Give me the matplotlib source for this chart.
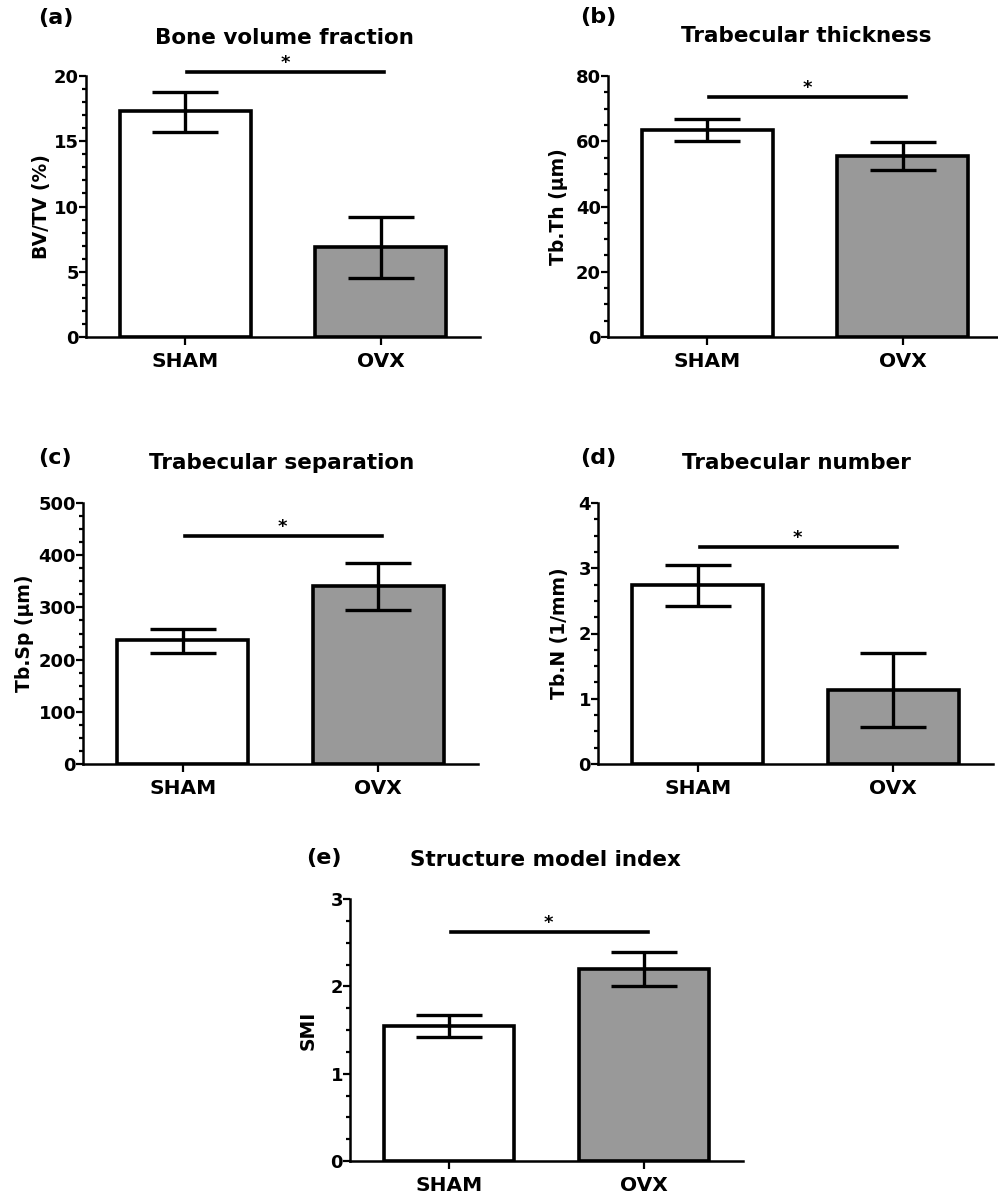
import matplotlib
matplotlib.use("Agg")
import matplotlib.pyplot as plt
from matplotlib.ticker import MultipleLocator

plt.rcParams['font.family'] = ['DejaVu Sans']
plt.rcParams['font.weight'] = 'bold'

groups = ['SHAM', 'OVX']
bar_colors = ['white', '#999999']

# mean values and error bar ends (low, high)
bvtv_mean = [17.3, 6.9]
bvtv_low = [15.7, 4.5]
bvtv_high = [18.8, 9.2]

tbth_mean = [63.5, 55.5]
tbth_low = [60.0, 51.3]
tbth_high = [66.8, 59.8]

tbsp_mean = [237, 341]
tbsp_low = [213, 295]
tbsp_high = [259, 386]

tbn_mean = [2.75, 1.13]
tbn_low = [2.42, 0.56]
tbn_high = [3.05, 1.70]

smi_mean = [1.55, 2.20]
smi_low = [1.42, 2.00]
smi_high = [1.67, 2.39]

sig_levels = [20.3, 73.5, 437, 3.32, 2.62]

W, H = 998, 1194
fig = plt.figure(figsize=(W / 100, H / 100), dpi=100)


def px_axes(left, top, right, bottom):
    return fig.add_axes([left / W, 1 - bottom / H, (right - left) / W, (bottom - top) / H])


def draw_panel(ax, mean, low, high, ymax, major, minor, ylabel, title, label,
               sig, title_xy, label_xy, ylabel_x):
    x = [0, 1]
    ax.bar(x, mean, width=0.67, color=bar_colors, edgecolor='black',
           linewidth=2.6, zorder=2)
    for xi, m, lo, hi in zip(x, mean, low, high):
        ax.errorbar(xi, m, yerr=[[m - lo], [hi - m]], color='black',
                    elinewidth=2.4, capsize=23.5, capthick=2.4, zorder=3)
    # significance bar
    ax.plot([0.01, 1.02], [sig, sig], color='black', lw=2.6, clip_on=False)
    ax.text(0.51, sig, '*', ha='center', va='bottom', fontsize=13,
            fontweight='bold')
    ax.set_xlim(-0.51, 1.51)
    ax.set_ylim(0, ymax)
    ax.yaxis.set_major_locator(MultipleLocator(major))
    ax.yaxis.set_minor_locator(MultipleLocator(minor))
    ax.set_xticks(x)
    ax.set_xticklabels(groups, fontsize=14.5, fontweight='bold')
    ax.tick_params(axis='y', which='major', length=5, width=1.6, labelsize=13, pad=0)
    ax.tick_params(axis='y', which='minor', length=3, width=1.6)
    ax.tick_params(axis='x', which='major', length=6, width=1.6, pad=5)
    for lbl in ax.get_yticklabels():
        lbl.set_fontweight('bold')
    for s in ['top', 'right']:
        ax.spines[s].set_visible(False)
    for s in ['left', 'bottom']:
        ax.spines[s].set_linewidth(1.8)
    pos = ax.get_position()
    fig.text(ylabel_x / W, (pos.y0 + pos.y1) / 2, ylabel, rotation=90,
             ha='center', va='center', fontsize=13.5, fontweight='bold')
    fig.text(title_xy[0] / W, 1 - title_xy[1] / H, title, ha='center',
             va='center', fontsize=15.5, fontweight='bold')
    fig.text(label_xy[0] / W, 1 - label_xy[1] / H, label, ha='left',
             va='center', fontsize=16, fontweight='bold')


ax_a = px_axes(86, 76, 480, 337)
draw_panel(ax_a, bvtv_mean, bvtv_low, bvtv_high, 20, 5, 1, 'BV/TV (%)',
           'Bone volume fraction', '(a)', sig_levels[0], (284, 38), (38, 18), 41)

ax_b = px_axes(608, 76, 1002, 337)
draw_panel(ax_b, tbth_mean, tbth_low, tbth_high, 80, 20, 5, 'Tb.Th (\u03bcm)',
           'Trabecular thickness', '(b)', sig_levels[1], (806, 36), (580, 17), 558)

ax_c = px_axes(83, 503, 478, 764)
draw_panel(ax_c, tbsp_mean, tbsp_low, tbsp_high, 500, 100, 25, 'Tb.Sp (\u03bcm)',
           'Trabecular separation', '(c)', sig_levels[2], (282, 463), (38, 458), 25)

ax_d = px_axes(598, 503, 993, 764)
draw_panel(ax_d, tbn_mean, tbn_low, tbn_high, 4, 1, 0.25, 'Tb.N (1/mm)',
           'Trabecular number', '(d)', sig_levels[3], (796, 463), (580, 458), 560)

ax_e = px_axes(350, 899, 743, 1161)
draw_panel(ax_e, smi_mean, smi_low, smi_high, 3, 1, 0.25, 'SMI',
           'Structure model index', '(e)', sig_levels[4], (545, 860), (306, 858), 308)

fig.savefig('out.png', dpi=100)
